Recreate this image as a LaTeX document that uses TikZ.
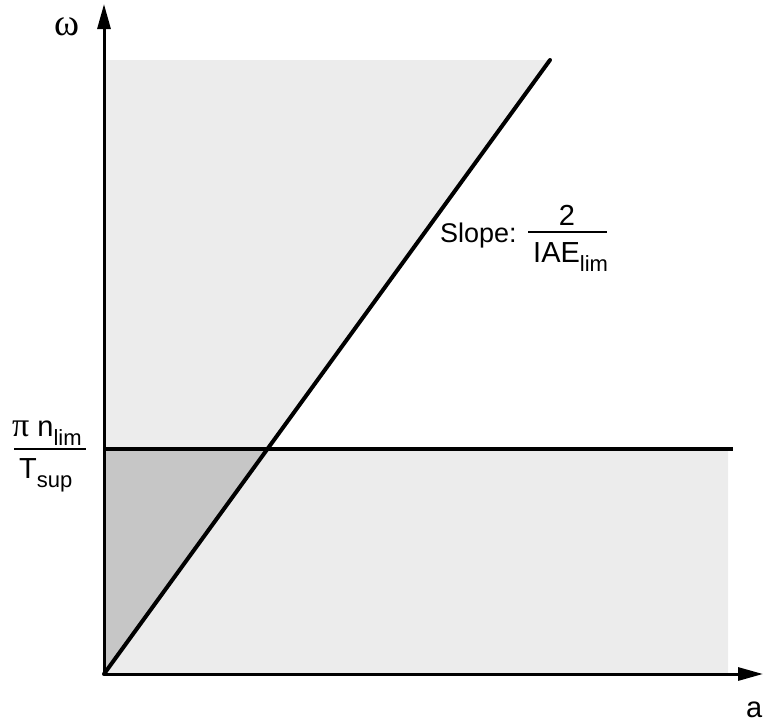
\documentclass[tikz,border=0pt]{standalone}
\usepackage{fontspec}
\setmainfont{Liberation Sans}
\newfontfamily\greekfont{Liberation Serif}
\usetikzlibrary{arrows.meta}
\newcommand{\lowsub}[1]{\raisebox{-9pt}{\fontsize{22}{26}\selectfont #1}}
\begin{document}
\begin{tikzpicture}[
            x=1pt, y=-1pt,
            axis/.style={line width=3pt, -{Triangle[length=25pt,width=13pt]}},
            limit/.style={line width=3.4pt},
            fracbar/.style={line width=2.8pt},
            lbl/.style={font=\fontsize{29}{34}\selectfont, inner sep=0pt},
            feasible/.style={fill=gray!15},
            both/.style={fill=gray!45}
        ]
            \useasboundingbox (0,0) rectangle (763,723);
            \coordinate (o) at (104,674);
            \coordinate (wtop) at (104,4);
            \coordinate (aend) at (763,674);
            \coordinate (wlim) at (104,449);
            \coordinate (cross) at (267,449);
            \coordinate (hend) at (733,449);
            \coordinate (stop) at (550,60);
            % shaded regions
            \path[feasible] (wlim) -- (104,60) -- (stop) -- (cross) -- cycle;
            \path[feasible] (cross) -- (728,449) -- (728,674) -- (o) -- cycle;
            \path[both] (o) -- (wlim) -- (cross) -- cycle;
            % limit lines
            \draw[limit] (wlim) -- (hend);
            \draw[limit, line width=4pt, line cap=round] (o) -- (stop);
            \draw[axis] (o) -- (wtop);
            \draw[axis] (o) -- (aend);
            % labels
            \node[lbl, font=\fontsize{38}{40}\selectfont] (omega) at (67,27) {\greekfont ω};
            \node[lbl, anchor=base west] (xlbl) at (746,717) {a};
            \node[lbl, anchor=base west] (pin) at (12,436) {{\greekfont\fontsize{34}{36}\selectfont π} n\lowsub{lim}};
            \node[lbl, anchor=base west] (tsup) at (19,478) {T\lowsub{sup}};
            \draw[fracbar] (14,449) -- (86,449);
            \node[lbl, font=\fontsize{27}{32}\selectfont, anchor=base west] (slope) at (440,242) {Slope:};
            \node[lbl, anchor=base] (two) at (567,225) {2};
            \node[lbl, anchor=base west] (iae) at (533,262) {IAE\lowsub{lim}};
            \draw[fracbar] (528,232) -- (607,232);
        \end{tikzpicture}
\end{document}
